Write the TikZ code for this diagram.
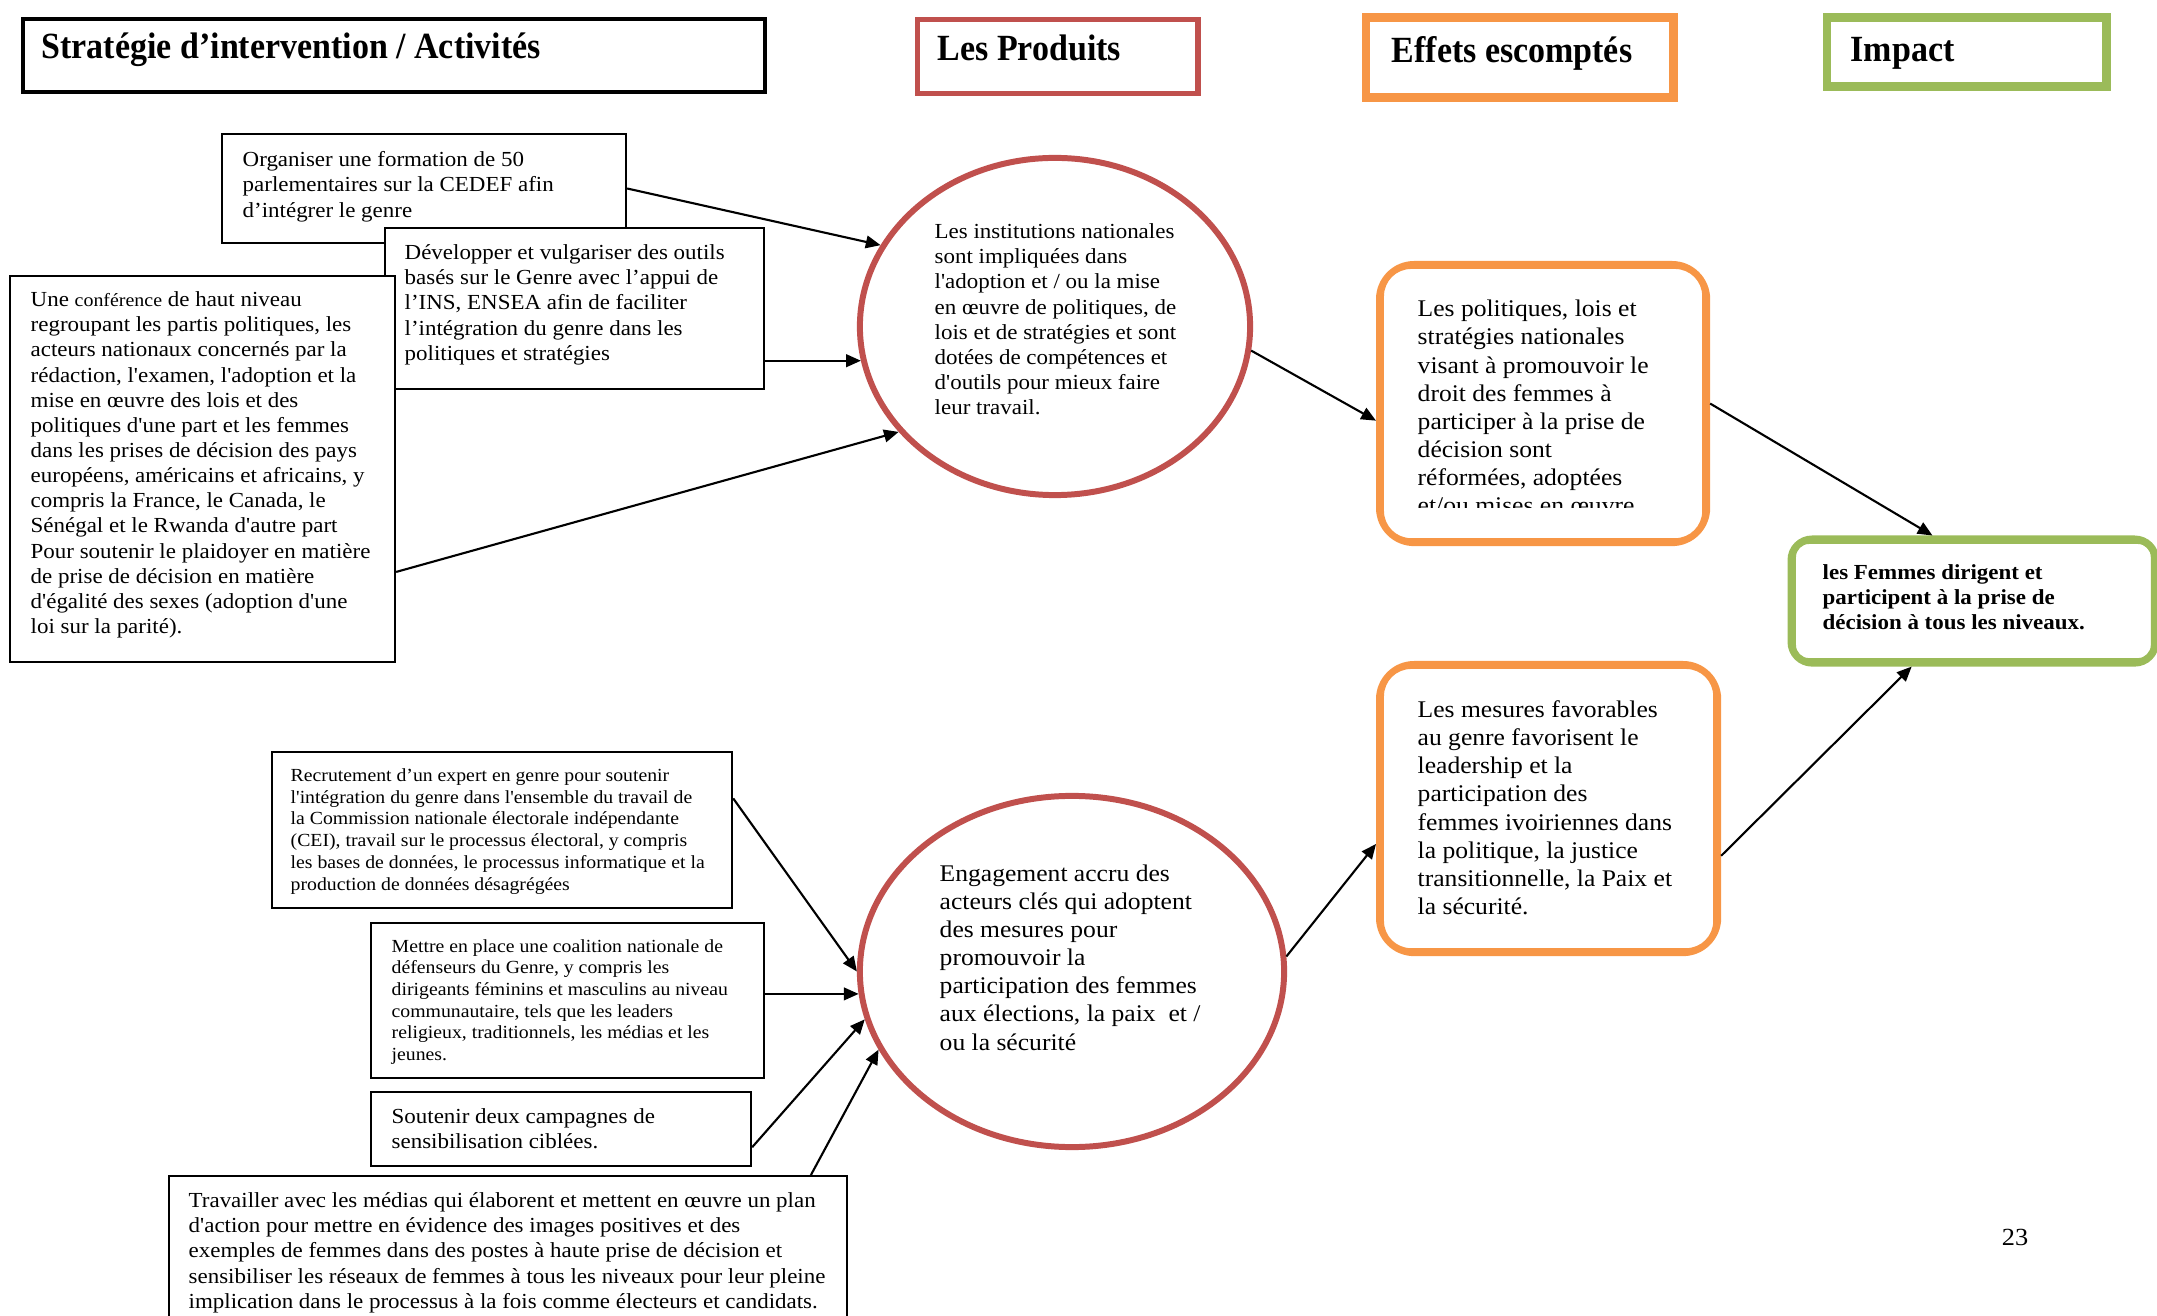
\documentclass[tikz,border=0pt]{standalone}
\usepackage{fontspec}
\setmainfont{Liberation Serif}[FakeStretch=1.07, Ligatures=TeXOff]
\newfontfamily\hdrfont{Liberation Serif}[FakeStretch=0.92]
\usetikzlibrary{arrows.meta,shapes.geometric,calc}
\definecolor{prodred}{HTML}{C0504D}
\definecolor{efforange}{HTML}{F79646}
\definecolor{impgreen}{HTML}{9BBB59}
\newcommand{\bodysz}{\fontsize{6.1}{7.15}\selectfont}
\newcommand{\largesz}{\fontsize{6.8}{8.0}\selectfont}
\newcommand{\smallsz}{\fontsize{5.25}{6.17}\selectfont}
\newcommand{\hdrsz}{\fontsize{10.5}{12}\selectfont}

\begin{document}
\begin{tikzpicture}[x=0.01cm,y=-0.01cm,
  actbox/.style={draw=black, line width=0.55pt, fill=white, inner sep=0pt, anchor=north west},
  txt/.style={inner sep=0pt, anchor=north west, align=left, execute at begin node=\strut},
  hdr/.style={inner sep=0pt, anchor=base west, font=\hdrfont\bfseries\hdrsz},
  produit/.style={ellipse, draw=prodred, line width=1.7pt, fill=white, inner sep=0pt},
  effet/.style={draw=efforange, line width=1.7pt, rounded corners=10pt, inner sep=0pt, anchor=north west},
  effetin/.style={draw=efforange, line width=0.55pt, rounded corners=8pt},
  impact/.style={draw=impgreen, line width=2pt, rounded corners=6pt, inner sep=0pt, anchor=north west},
  impactin/.style={draw=impgreen, line width=0.55pt, rounded corners=4pt},
  flow/.style={-{Triangle[length=4.2pt,width=3.6pt]}, line width=0.6pt}
]
\useasboundingbox (0,0) rectangle (2157,1316);

% ---------- column headers ----------
\node[draw=black, line width=1.15pt, inner sep=0pt, anchor=north west,
      minimum width=7.42cm, minimum height=0.73cm] (h1) at (21,17) {};
\node[hdr] (h1t) at ($(h1.north west)+(20,42)$) {Stratégie d’intervention / Activités};

\node[draw=prodred, line width=1.55pt, inner sep=0pt, anchor=north west,
      minimum width=2.80cm, minimum height=0.74cm] (h2) at (915,17) {};
\node[hdr] (h2t) at ($(h2.north west)+(22,43.5)$) {Les Produits};

\node[draw=efforange, line width=2pt, inner sep=0pt, anchor=north west,
      minimum width=3.09cm, minimum height=0.81cm] (h3) at (1361.5,13.5) {};
\draw[draw=efforange, line width=0.55pt] ($(h3.north west)+(7.5,7.5)$) rectangle ($(h3.south east)+(-7.5,-7.5)$);
\node[hdr] (h3t) at ($(h3.north west)+(29.5,49.5)$) {Effets escomptés};

\node[draw=impgreen, line width=2pt, inner sep=0pt, anchor=north west,
      minimum width=2.81cm, minimum height=0.70cm] (h4) at (1822.5,13.5) {};
\draw[draw=impgreen, line width=0.55pt] ($(h4.north west)+(7.5,7.5)$) rectangle ($(h4.south east)+(-7.5,-7.5)$);
\node[hdr] (h4t) at ($(h4.north west)+(27.5,48.5)$) {Impact};

% ---------- activities, upper chain ----------
\node[actbox, minimum width=4.04cm, minimum height=1.09cm] (a1) at (221,133) {};
\node[txt, font=\bodysz] (a1t) at (242,151) {Organiser une formation de 50\\
parlementaires sur la CEDEF afin\\
d’intégrer le genre};

\node[actbox, minimum width=3.79cm, minimum height=1.61cm] (a2) at (384,227) {};
\node[txt, font=\bodysz] (a2t) at (404,244) {Développer et vulgariser des outils\\
basés sur le Genre avec l’appui de\\
l’INS, ENSEA afin de faciliter\\
l’intégration du genre dans les\\
politiques et stratégies};

\node[actbox, minimum width=3.85cm, minimum height=3.86cm] (a3) at (9,275) {};
\node[txt, font=\bodysz] (a3t) at (30,291) {Une {\fontsize{5.3}{7.15}\selectfont conférence} de haut niveau\\
regroupant les partis politiques, les\\
acteurs nationaux concernés par la\\
rédaction, l'examen, l'adoption et la\\
mise en œuvre des lois et des\\
politiques d'une part et les femmes\\
dans les prises de décision des pays\\
européens, américains et africains, y\\
compris la France, le Canada, le\\
Sénégal et le Rwanda d'autre part\\
Pour soutenir le plaidoyer en matière\\
de prise de décision en matière\\
d'égalité des sexes (adoption d'une\\
loi sur la parité).};

% ---------- activities, lower chain ----------
\node[actbox, minimum width=4.60cm, minimum height=1.56cm] (b1) at (271,751) {};
\node[txt, font=\smallsz] (b1t) at (290,768) {Recrutement d’un expert en genre pour soutenir\\
l'intégration du genre dans l'ensemble du travail de\\
la Commission nationale électorale indépendante\\
(CEI), travail sur le processus électoral, y compris\\
les bases de données, le processus informatique et la\\
production de données désagrégées};

\node[actbox, minimum width=3.93cm, minimum height=1.55cm] (b2) at (370,922) {};
\node[txt, font=\smallsz] (b2t) at (391,938.5) {Mettre en place une coalition nationale de\\
défenseurs du Genre, y compris les\\
dirigeants féminins et masculins au niveau\\
communautaire, tels que les leaders\\
religieux, traditionnels, les médias et les\\
jeunes.};

\node[actbox, minimum width=3.80cm, minimum height=0.74cm] (b3) at (370,1091) {};
\node[txt, font=\bodysz] (b3t) at (391,1108) {Soutenir deux campagnes de\\
sensibilisation ciblées.};

\node[actbox, minimum width=6.78cm, minimum height=1.60cm] (b4) at (168,1175) {};
\node[txt, font=\bodysz] (b4t) at (188,1192) {Travailler avec les médias qui élaborent et mettent en œuvre un plan\\
d'action pour mettre en évidence des images positives et des\\
exemples de femmes dans des postes à haute prise de décision et\\
sensibiliser les réseaux de femmes à tous les niveaux pour leur pleine\\
implication dans le processus à la fois comme électeurs et candidats.};

% ---------- products ----------
\node[produit, minimum width=3.90cm, minimum height=3.37cm] (e1) at (1055,326.5) {};
\node[txt, font=\bodysz] (e1t) at (934,223) {Les institutions nationales\\
sont impliquées dans\\
l'adoption et / ou la mise\\
en œuvre de politiques, de\\
lois et de stratégies et sont\\
dotées de compétences et\\
d'outils pour mieux faire\\
leur travail.};

\node[produit, minimum width=4.24cm, minimum height=3.51cm] (e2) at (1072,971.5) {};
\node[txt, font=\largesz] (e2t) at (939,864) {Engagement accru des\\
acteurs clés qui adoptent\\
des mesures pour\\
promouvoir la\\
participation des femmes\\
aux élections, la paix\ \ et /\\
ou la sécurité};

% ---------- expected effects ----------
\node[effet, minimum width=3.28cm, minimum height=2.79cm] (f1) at (1376,261) {};
\draw[effetin] ($(f1.north west)+(7,7)$) rectangle ($(f1.south east)+(-7,-7)$);
\begin{scope}
\clip (1384,268) rectangle (1696,508);
\node[txt, font=\largesz] (f1t) at (1417,299.5) {Les politiques, lois et\\
stratégies nationales\\
visant à promouvoir le\\
droit des femmes à\\
participer à la prise de\\
décision sont\\
réformées, adoptées\\
et/ou mises en œuvre};
\end{scope}

\node[effet, minimum width=3.39cm, minimum height=2.89cm] (f2) at (1376,661) {};
\draw[effetin] ($(f2.north west)+(7,7)$) rectangle ($(f2.south east)+(-7,-7)$);
\node[txt, font=\largesz] (f2t) at (1417,700) {Les mesures favorables\\
au genre favorisent le\\
leadership et la\\
participation des\\
femmes ivoiriennes dans\\
la politique, la justice\\
transitionnelle, la Paix et\\
la sécurité.};

% ---------- impact ----------
\node[impact, minimum width=3.645cm, minimum height=1.24cm] (i1) at (1787.5,535.5) {};
\draw[impactin] ($(i1.north west)+(7.5,7.5)$) rectangle ($(i1.south east)+(-7.5,-7.5)$);
\node[txt, font=\bfseries\bodysz] (i1t) at (1822,563.5) {les Femmes dirigent et\\
participent à la prise de\\
décision à tous les niveaux.};

\node[inner sep=0pt, font=\fontsize{7}{8}\selectfont] (pg) at (2015,1237) {23};

% ---------- connectors ----------
\draw[flow] (a1.east) -- (e1.155);
\draw[flow] (a2.east |- e1.190) -- (e1.190);
\draw[flow] ($(a3.north east)!0.765!(a3.south east)$) -- (e1.214);
\draw[flow] (e1.-7) -- ($(f1.north west)!0.56!(f1.south west)$);
\draw[flow] (f1.east) -- ($(i1.north west)!0.39!(i1.north east)$);

\draw[flow] ($(b1.north east)!0.30!(b1.south east)$) -- (e2.west);
\draw[flow] (b2.east |- e2.186) -- (e2.186);
\draw[flow] ($(b3.north east)!0.74!(b3.south east)$) -- (e2.193);
\draw[flow] ($(b4.north west)!0.945!(b4.north east)$) -- (e2.202);
\draw[flow] (e2.4) -- ($(f2.north west)!0.62!(f2.south west)$);
\draw[flow] ($(f2.north east)!0.66!(f2.south east)$) -- ($(i1.south west)!0.334!(i1.south east)$);
\end{tikzpicture}
\end{document}
